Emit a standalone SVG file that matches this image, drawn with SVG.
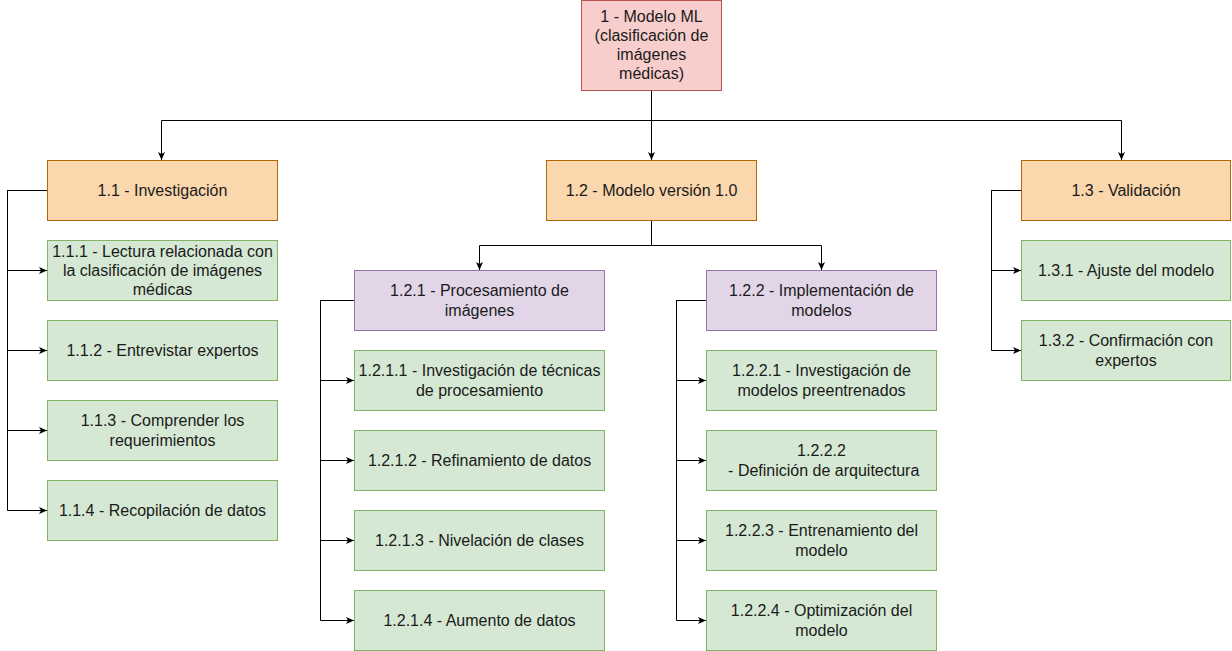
<svg xmlns="http://www.w3.org/2000/svg" width="1232" height="651" viewBox="0 0 1232 651">
<style>
rect{stroke-width:1}
.red{fill:#f8cecc;stroke:#b85450}
.org{fill:#fad7ac;stroke:#b46504}
.pur{fill:#e1d5e7;stroke:#9673a6}
.grn{fill:#d5e8d4;stroke:#82b366}
text{font-family:"Liberation Sans",Arial,sans-serif;font-size:16px;fill:#1a1a1a;text-anchor:middle}
.c{fill:none;stroke:#000;stroke-width:1;marker-end:url(#ah)}
</style>
<defs>
<marker id="ah" markerUnits="userSpaceOnUse" markerWidth="8" markerHeight="8" viewBox="0 0 8 8" refX="8" refY="4" orient="auto">
<path d="M0,0.5 L8,4 L0,7.5 L2,4 z" fill="#000"/>
</marker>
</defs>
<rect width="1232" height="651" fill="#fff"/>
<g id="connectors">
<path class="c" d="M651.5,90.5 V120.5 H161.5 V160"/>
<path class="c" d="M651.5,90.5 V160"/>
<path class="c" d="M651.5,90.5 V120.5 H1121.5 V160"/>
<path class="c" d="M47,190.5 H7.5 V270.5 H47"/>
<path class="c" d="M47,190.5 H7.5 V350.5 H47"/>
<path class="c" d="M47,190.5 H7.5 V430.5 H47"/>
<path class="c" d="M47,190.5 H7.5 V510.5 H47"/>
<path class="c" d="M651.5,220.5 V245.5 H479.5 V270"/>
<path class="c" d="M651.5,220.5 V245.5 H821.5 V270"/>
<path class="c" d="M354,300.5 H320.5 V380.5 H354"/>
<path class="c" d="M354,300.5 H320.5 V460.5 H354"/>
<path class="c" d="M354,300.5 H320.5 V540.5 H354"/>
<path class="c" d="M354,300.5 H320.5 V620.5 H354"/>
<path class="c" d="M706,300.5 H676.5 V380.5 H706"/>
<path class="c" d="M706,300.5 H676.5 V460.5 H706"/>
<path class="c" d="M706,300.5 H676.5 V540.5 H706"/>
<path class="c" d="M706,300.5 H676.5 V620.5 H706"/>
<path class="c" d="M1021,190.5 H991.5 V270.5 H1021"/>
<path class="c" d="M1021,190.5 H991.5 V350.5 H1021"/>
</g>
<g id="n1"><rect class="red" x="581.5" y="0.5" width="140" height="90"/>
<text><tspan x="651.5" y="21.7">1 - Modelo ML</tspan><tspan x="651.5" y="40.9">(clasificación de</tspan><tspan x="651.5" y="60.1">imágenes</tspan><tspan x="651.5" y="79.3">médicas)</tspan></text></g>
<g id="n1_1"><rect class="org" x="47.5" y="160.5" width="230" height="60"/>
<text x="162.5" y="196">1.1 - Investigación</text></g>
<g id="n1_1_1"><rect class="grn" x="47.5" y="240.5" width="230" height="60"/>
<text><tspan x="162.5" y="256.8">1.1.1 - Lectura relacionada con</tspan><tspan x="162.5" y="276">la clasificación de imágenes</tspan><tspan x="162.5" y="295.2">médicas</tspan></text></g>
<g id="n1_1_2"><rect class="grn" x="47.5" y="320.5" width="230" height="60"/>
<text x="162.5" y="356">1.1.2 - Entrevistar expertos</text></g>
<g id="n1_1_3"><rect class="grn" x="47.5" y="400.5" width="230" height="60"/>
<text><tspan x="162.5" y="426.4">1.1.3 - Comprender los</tspan><tspan x="162.5" y="445.6">requerimientos</tspan></text></g>
<g id="n1_1_4"><rect class="grn" x="47.5" y="480.5" width="230" height="60"/>
<text x="162.5" y="516">1.1.4 - Recopilación de datos</text></g>
<g id="n1_2"><rect class="org" x="546.5" y="160.5" width="210" height="60"/>
<text x="651.5" y="196">1.2 - Modelo versión 1.0</text></g>
<g id="n1_2_1"><rect class="pur" x="354.5" y="270.5" width="250" height="60"/>
<text><tspan x="479.5" y="296.4">1.2.1 - Procesamiento de</tspan><tspan x="479.5" y="315.6">imágenes</tspan></text></g>
<g id="n1_2_1_1"><rect class="grn" x="354.5" y="350.5" width="250" height="60"/>
<text><tspan x="479.5" y="376.4">1.2.1.1 - Investigación de técnicas</tspan><tspan x="479.5" y="395.6">de procesamiento</tspan></text></g>
<g id="n1_2_1_2"><rect class="grn" x="354.5" y="430.5" width="250" height="60"/>
<text x="479.5" y="466">1.2.1.2 - Refinamiento de datos</text></g>
<g id="n1_2_1_3"><rect class="grn" x="354.5" y="510.5" width="250" height="60"/>
<text x="479.5" y="546">1.2.1.3 - Nivelación de clases</text></g>
<g id="n1_2_1_4"><rect class="grn" x="354.5" y="590.5" width="250" height="60"/>
<text x="479.5" y="626">1.2.1.4 - Aumento de datos</text></g>
<g id="n1_2_2"><rect class="pur" x="706.5" y="270.5" width="230" height="60"/>
<text><tspan x="821.5" y="296.4">1.2.2 - Implementación de</tspan><tspan x="821.5" y="315.6">modelos</tspan></text></g>
<g id="n1_2_2_1"><rect class="grn" x="706.5" y="350.5" width="230" height="60"/>
<text><tspan x="821.5" y="376.4">1.2.2.1 - Investigación de</tspan><tspan x="821.5" y="395.6">modelos preentrenados</tspan></text></g>
<g id="n1_2_2_2"><rect class="grn" x="706.5" y="430.5" width="230" height="60"/>
<text><tspan x="821.5" y="456.4">1.2.2.2</tspan><tspan x="821.5" y="475.6"> - Definición de arquitectura</tspan></text></g>
<g id="n1_2_2_3"><rect class="grn" x="706.5" y="510.5" width="230" height="60"/>
<text><tspan x="821.5" y="536.4">1.2.2.3 - Entrenamiento del</tspan><tspan x="821.5" y="555.6">modelo</tspan></text></g>
<g id="n1_2_2_4"><rect class="grn" x="706.5" y="590.5" width="230" height="60"/>
<text><tspan x="821.5" y="616.4">1.2.2.4 - Optimización del</tspan><tspan x="821.5" y="635.6">modelo</tspan></text></g>
<g id="n1_3"><rect class="org" x="1021.5" y="160.5" width="209" height="60"/>
<text x="1126" y="196">1.3 - Validación</text></g>
<g id="n1_3_1"><rect class="grn" x="1021.5" y="240.5" width="209" height="60"/>
<text x="1126" y="276">1.3.1 - Ajuste del modelo</text></g>
<g id="n1_3_2"><rect class="grn" x="1021.5" y="320.5" width="209" height="60"/>
<text><tspan x="1126" y="346.4">1.3.2 - Confirmación con</tspan><tspan x="1126" y="365.6">expertos</tspan></text></g>
</svg>
